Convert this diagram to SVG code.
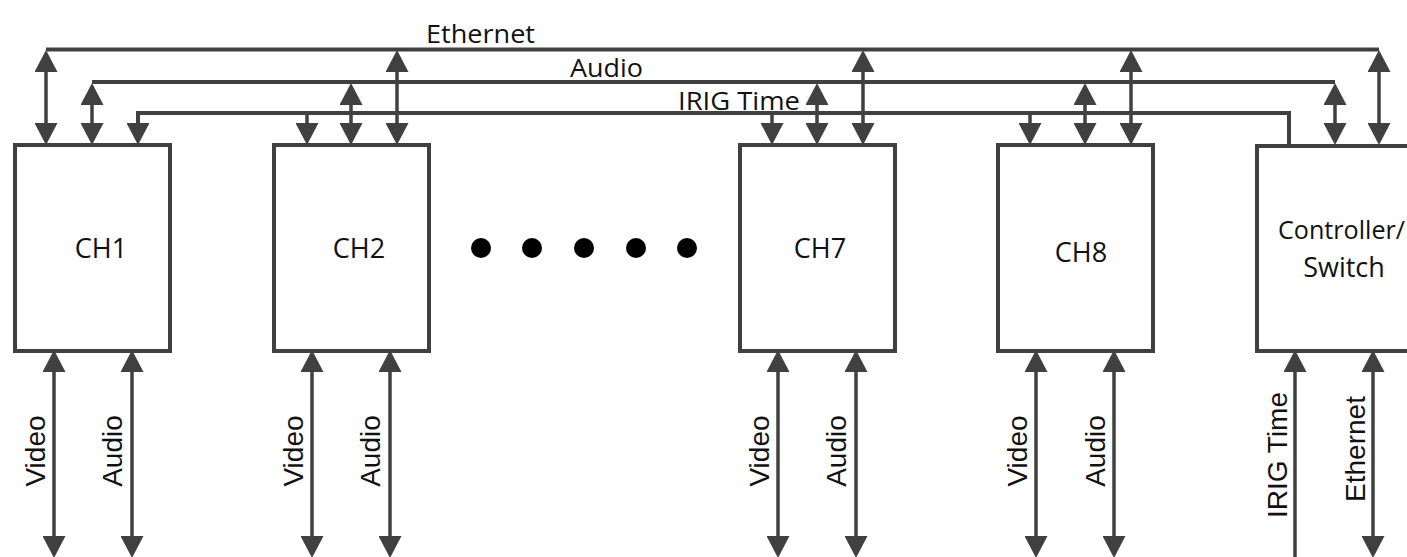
<svg xmlns="http://www.w3.org/2000/svg" width="1407" height="557" viewBox="0 0 1407 557">
  <style>
    .box { fill: #ffffff; stroke: #404040; stroke-width: 4; }
    .bus { fill: none; stroke: #404040; stroke-width: 4; }
    .wire { fill: none; stroke: #404040; stroke-width: 3.5; }
    .arr2 { marker-start: url(#ah); marker-end: url(#ah); }
    .arrE { marker-end: url(#ah); }
    .arrS { marker-start: url(#ah); }
    .lbl { font-family: "Open Sans", "Noto Sans", sans-serif; font-size: 26px; fill: #111111; }
    .ch { font-family: "Open Sans", "Noto Sans", sans-serif; font-size: 27px; fill: #111111; text-anchor: middle; }
    .vl { font-family: "Liberation Sans", Arial, sans-serif; font-size: 28px; fill: #111111; text-anchor: middle; }
    .dot { fill: #000000; }
  </style>
  <defs>
    <marker id="ah" markerUnits="userSpaceOnUse" markerWidth="22" markerHeight="23" refX="0" refY="11.5" orient="auto-start-reverse" viewBox="0 0 22 23">
      <path d="M0,0 L22,11.5 L0,23 Z" fill="#404040"/>
    </marker>
  </defs>

  <!-- nodes -->
  <g id="ch1">
    <rect class="box" x="15" y="145" width="155" height="206"/>
    <text class="ch" x="101" y="258">CH1</text>
  </g>
  <g id="ch2">
    <rect class="box" x="274" y="145" width="155" height="206"/>
    <text class="ch" x="359" y="258">CH2</text>
  </g>
  <g id="ch7">
    <rect class="box" x="740" y="145" width="155" height="206"/>
    <text class="ch" x="820" y="258">CH7</text>
  </g>
  <g id="ch8">
    <rect class="box" x="998" y="145" width="155" height="206"/>
    <text class="ch" x="1081" y="262">CH8</text>
  </g>
  <g id="controller">
    <rect class="box" x="1257" y="146" width="160" height="205"/>
    <text class="lbl" x="1278" y="239" textLength="127" lengthAdjust="spacingAndGlyphs">Controller/</text>
    <text class="ch" x="1344" y="277" font-size="26">Switch</text>
  </g>
  <g id="ellipsis">
    <circle class="dot" cx="481" cy="248" r="10"/>
    <circle class="dot" cx="532" cy="248" r="10"/>
    <circle class="dot" cx="584" cy="248" r="10"/>
    <circle class="dot" cx="636" cy="248" r="10"/>
    <circle class="dot" cx="687" cy="248" r="10"/>
  </g>

  <!-- connectors -->
  <g id="connectors">
    <!-- buses -->
    <path class="bus" d="M46,49.5 H1379"/>
    <path class="bus" d="M92,82 H1335"/>
    <path class="bus" d="M138,123 V113 H1289 V145"/>

    <!-- Ethernet drops -->
    <line class="wire arr2" x1="46" y1="72" x2="46" y2="123"/>
    <line class="wire arr2" x1="397" y1="72" x2="397" y2="123"/>
    <line class="wire arr2" x1="863" y1="72" x2="863" y2="123"/>
    <line class="wire arr2" x1="1131" y1="72" x2="1131" y2="123"/>
    <line class="wire arr2" x1="1379" y1="72" x2="1379" y2="123"/>

    <!-- Audio drops -->
    <line class="wire arr2" x1="92" y1="105" x2="92" y2="123"/>
    <line class="wire arr2" x1="351" y1="105" x2="351" y2="123"/>
    <line class="wire arr2" x1="817" y1="105" x2="817" y2="123"/>
    <line class="wire arr2" x1="1085" y1="105" x2="1085" y2="123"/>
    <line class="wire arr2" x1="1335" y1="105" x2="1335" y2="123"/>

    <!-- IRIG drops -->
    <line class="wire arrE" x1="138" y1="113" x2="138" y2="123"/>
    <line class="wire arrE" x1="307" y1="113" x2="307" y2="123"/>
    <line class="wire arrE" x1="772" y1="113" x2="772" y2="123"/>
    <line class="wire arrE" x1="1030" y1="113" x2="1030" y2="123"/>

    <!-- bottom video/audio -->
    <line class="wire arr2" x1="54" y1="372" x2="54" y2="536"/>
    <line class="wire arr2" x1="132" y1="372" x2="132" y2="536"/>
    <line class="wire arr2" x1="312" y1="372" x2="312" y2="536"/>
    <line class="wire arr2" x1="390" y1="372" x2="390" y2="536"/>
    <line class="wire arr2" x1="778" y1="372" x2="778" y2="536"/>
    <line class="wire arr2" x1="856" y1="372" x2="856" y2="536"/>
    <line class="wire arr2" x1="1036" y1="372" x2="1036" y2="536"/>
    <line class="wire arr2" x1="1114" y1="372" x2="1114" y2="536"/>
    <!-- controller bottom -->
    <line class="wire arrS" x1="1295" y1="372" x2="1295" y2="557"/>
    <line class="wire arr2" x1="1373" y1="372" x2="1373" y2="536"/>

    <!-- bus labels -->
    <text class="lbl" x="426" y="43" textLength="109" lengthAdjust="spacingAndGlyphs">Ethernet</text>
    <text class="lbl" x="570" y="77" textLength="73" lengthAdjust="spacingAndGlyphs">Audio</text>
    <text class="lbl" x="678" y="110" textLength="122" lengthAdjust="spacingAndGlyphs">IRIG Time</text>

    <!-- vertical labels -->
    <text class="vl" transform="translate(45,451) rotate(-90)">Video</text>
    <text class="vl" transform="translate(122,451) rotate(-90)">Audio</text>
    <text class="vl" transform="translate(303,451) rotate(-90)">Video</text>
    <text class="vl" transform="translate(380,451) rotate(-90)">Audio</text>
    <text class="vl" transform="translate(769,451) rotate(-90)">Video</text>
    <text class="vl" transform="translate(846,451) rotate(-90)">Audio</text>
    <text class="vl" transform="translate(1027,451) rotate(-90)">Video</text>
    <text class="vl" transform="translate(1105,451) rotate(-90)">Audio</text>
    <text class="vl" transform="translate(1287,455) rotate(-90)">IRIG Time</text>
    <text class="vl" transform="translate(1365,449) rotate(-90)">Ethernet</text>
  </g>
</svg>
